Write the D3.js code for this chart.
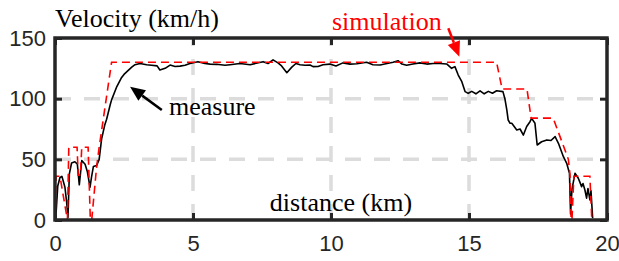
<!DOCTYPE html>
<html>
<head>
<meta charset="utf-8">
<script src="https://cdn.jsdelivr.net/npm/d3@7"></script>
<style>
  body { margin: 0; background: #fff; }
  svg { display: block; }
</style>
</head>
<body>
<script>
// distance (km) / velocity (km/h)
var simDist = [0, 0.04, 0.18, 0.45, 0.5, 0.8, 0.84, 0.92, 0.97, 1.2, 1.28, 1.33, 1.5, 1.6, 2.05,
  16.0, 16.2, 17.1, 17.25, 18.05, 18.6, 18.66, 18.7, 18.73, 18.8, 19.38, 19.45];
var simVel = [0, 36, 36, 0, 60, 60, 37, 37, 60, 60, 0, 0, 42, 60, 130,
  130, 108, 108, 84, 84, 50, 37, 0, 0, 36, 36, 0];

var measDist = [0, 0.04, 0.1, 0.18, 0.25, 0.3, 0.36, 0.42, 0.47, 0.52, 0.6, 0.72, 0.81, 0.88, 0.97,
  1.09, 1.17, 1.27, 1.32, 1.39, 1.51, 1.6, 1.69, 1.8, 1.87, 2.0, 2.05, 2.24, 2.4, 2.5, 2.78, 2.9,
  3.08, 3.32, 3.5, 3.7, 3.8, 3.99, 4.17, 4.35, 4.53, 4.71, 4.89, 5.18, 5.43, 5.62, 5.86, 6.16,
  6.34, 6.7, 7.07, 7.54, 7.72, 7.9, 8.08, 8.21, 8.4, 8.58, 8.73, 8.88, 9.06, 9.24, 9.35, 9.53,
  9.71, 9.96, 10.18, 10.43, 10.69, 10.94, 11.29, 11.52, 11.78, 12.03, 12.25, 12.43, 12.57, 12.74,
  12.97, 13.22, 13.47, 13.7, 13.95, 14.19, 14.37, 14.49, 14.61, 14.74, 14.86, 14.97, 15.1, 15.25,
  15.4, 15.55, 15.7, 15.85, 16.0, 16.23, 16.3, 16.37, 16.42, 16.49, 16.55, 16.73, 16.85, 16.97,
  17.09, 17.21, 17.27, 17.39, 17.47, 17.63, 17.82, 17.97, 18.12, 18.24, 18.42, 18.54, 18.64,
  18.68, 18.73, 18.84, 18.96, 19.02, 19.08, 19.13, 19.2, 19.26, 19.31, 19.38, 19.42, 19.48];
var measVel = [3, 6, 28, 35, 36, 32, 27, 15, 2, 38, 47, 48, 46, 29, 49,
  46, 40, 27, 35, 44, 45, 50, 67, 78, 83, 95, 99, 110, 117, 120, 126, 128,
  129, 128, 127.5, 127, 123.6, 125, 127.7, 126.5, 126.8, 127.5, 129, 130.5, 129, 128.5, 128.3, 127.5,
  128, 129, 128, 130.5, 129, 132, 129.5, 127, 121.4, 126, 129, 128, 127.6, 127.8, 126.4, 126.5,
  128, 128.5, 127, 129.5, 128.5, 128.8, 130, 128, 127.8, 129, 130, 131.3, 128.5, 127.5,
  128.5, 129.5, 128.5, 129, 129, 128.6, 125, 126.4, 119.5, 114, 105.8, 104.4, 106, 104,
  106.5, 104, 106, 104.5, 106.5, 105.8, 100, 90.7, 82.4, 79.7, 79.7, 74.2, 75, 70,
  77, 81, 83.8, 79.7, 61.8, 64.5, 66, 65.5, 68.7, 63.2, 52.2, 46.7, 38.5,
  5, 25, 38.5, 34.4, 31, 27.5, 30, 24.7, 18, 26, 16.5, 24, 1.4];

var distTicks = [0, 5, 10, 15, 20];
var velTicks = [0, 50, 100, 150];

var W = 619, H = 261;
var margin = {left: 55, top: 38, right: 12, bottom: 41};
var width = W - margin.left - margin.right,
  height = H - margin.top - margin.bottom;
var axisColor = "#262626";

var svg = d3.select("body").append("svg")
  .attr("width", W)
  .attr("height", H);

var g = svg.append("g")
  .attr("transform", "translate(" + margin.left + "," + margin.top + ")");

var x = d3.scaleLinear().domain([0, 20]).range([0, width]);
var y = d3.scaleLinear().domain([0, 150]).range([height, 0]);

// grid
g.selectAll(".hgrid")
  .data(velTicks.slice(1, -1))
  .enter().append("line")
  .attr("x1", 0).attr("x2", width)
  .attr("y1", function(d) { return y(d); })
  .attr("y2", function(d) { return y(d); })
  .attr("stroke", "#dcdcdc").attr("stroke-width", 3.5)
  .attr("stroke-dasharray", "16,13");

g.selectAll(".vgrid")
  .data(distTicks.slice(1, -1))
  .enter().append("line")
  .attr("y1", height).attr("y2", 0)
  .attr("x1", function(d) { return x(d); })
  .attr("x2", function(d) { return x(d); })
  .attr("stroke", "#dcdcdc").attr("stroke-width", 3.5)
  .attr("stroke-dasharray", "16,13");

// lines
var line = d3.line()
  .x(function(d) { return x(d[0]); })
  .y(function(d) { return y(d[1]); });

var meas = measDist.map(function(d, i) { return [d, measVel[i]]; });
var sim = simDist.map(function(d, i) { return [d, simVel[i]]; });

g.append("path")
  .datum(meas)
  .attr("d", line)
  .attr("fill", "none")
  .attr("stroke", "#000")
  .attr("stroke-width", 1.6)
  .attr("stroke-linejoin", "round");

g.append("path")
  .datum(sim)
  .attr("d", line)
  .attr("fill", "none")
  .attr("stroke", "#ff0000")
  .attr("stroke-width", 1.6)
  .attr("stroke-dasharray", "8,5");

// axes
function styleAxis(sel) {
  sel.select(".domain").remove();
  sel.selectAll(".tick line").attr("stroke", axisColor).attr("stroke-width", 3);
  sel.selectAll(".tick text")
    .attr("fill", axisColor)
    .style("font-family", "'Liberation Sans', Arial, sans-serif")
    .style("font-size", "22px");
}

g.append("g")
  .attr("transform", "translate(0," + height + ")")
  .call(d3.axisBottom(x).tickValues(distTicks).tickSize(-7).tickPadding(15))
  .call(styleAxis);

g.append("g")
  .call(d3.axisTop(x).tickValues(distTicks).tickSize(-7).tickFormat(""))
  .call(styleAxis);

g.append("g")
  .call(d3.axisLeft(y).tickValues(velTicks).tickSize(-7).tickPadding(9))
  .call(styleAxis);

g.append("g")
  .attr("transform", "translate(" + width + ",0)")
  .call(d3.axisRight(y).tickValues(velTicks).tickSize(-7).tickFormat(""))
  .call(styleAxis);

g.append("rect")
  .attr("width", width).attr("height", height)
  .attr("fill", "none")
  .attr("stroke", axisColor)
  .attr("stroke-width", 3.5);

// labels
var serif = "'Liberation Serif', 'Times New Roman', serif";

svg.append("text")
  .attr("x", 55).attr("y", 27)
  .style("font-family", serif).style("font-size", "26px")
  .attr("fill", "#000")
  .text("Velocity (km/h)");

g.append("text")
  .attr("x", x(10.36)).attr("y", height - 9)
  .attr("text-anchor", "middle")
  .style("font-family", serif).style("font-size", "26px")
  .attr("fill", "#000")
  .text("distance (km)");

g.append("text")
  .attr("x", 114).attr("y", 77)
  .style("font-family", serif).style("font-size", "26px")
  .attr("fill", "#000")
  .text("measure");

svg.append("text")
  .attr("x", 332).attr("y", 30)
  .style("font-family", serif).style("font-size", "26px")
  .attr("fill", "#ff0000")
  .text("simulation");

// arrows
function arrow(x1, y1, x2, y2, color) {
  var ang = Math.atan2(y2 - y1, x2 - x1);
  var len = 15, half = 6.5;
  var bx = x2 - len * Math.cos(ang), by = y2 - len * Math.sin(ang);
  g.append("line")
    .attr("x1", x1).attr("y1", y1).attr("x2", bx).attr("y2", by)
    .attr("stroke", color).attr("stroke-width", 2.5);
  var pts = [
    [x2, y2],
    [bx + half * Math.sin(ang), by - half * Math.cos(ang)],
    [bx - half * Math.sin(ang), by + half * Math.cos(ang)]
  ];
  g.append("polygon")
    .attr("points", pts.map(function(p) { return p.join(","); }).join(" "))
    .attr("fill", color);
}

arrow(x(3.87), y(90.7), x(2.72), y(109.8), "#000");
arrow(x(14.25), y(158), x(14.65), y(134.6), "#ff0000");
</script>
</body>
</html>
